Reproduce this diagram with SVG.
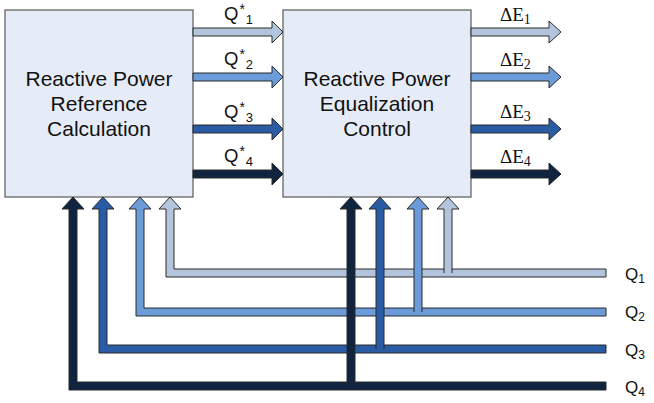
<svg xmlns="http://www.w3.org/2000/svg" width="654" height="403" viewBox="0 0 654 403">
<style>
.box{fill:#e6ecf7;stroke:#5a5a5a;stroke-width:1.2}
.bt{font-family:"Liberation Sans",Arial,sans-serif;font-size:21px;fill:#111;text-anchor:middle}
.ql{font-family:"Liberation Sans",Arial,sans-serif;font-size:18.5px;fill:#111}
.rl{font-family:"Liberation Sans",Arial,sans-serif;font-size:17px;fill:#111}
.el{font-family:"Liberation Serif","Times New Roman",serif;font-size:19px;fill:#111}
.a{stroke:#2b2b2b;stroke-width:1;stroke-linejoin:miter}
.c1{fill:#b3c5dc}.c2{fill:#6b9bd8}.c3{fill:#2a5ca5}.c4{fill:#10243f}
</style>
<rect width="654" height="403" fill="#ffffff"/>
<g id="node-reference">
<rect class="box" x="5" y="10" width="188" height="187"/>
<text class="bt" x="99" y="86">Reactive Power</text>
<text class="bt" x="99" y="111">Reference</text>
<text class="bt" x="99" y="136">Calculation</text>
</g>
<g id="node-equalization">
<rect class="box" x="283" y="10" width="188" height="187"/>
<text class="bt" x="377" y="86">Reactive Power</text>
<text class="bt" x="377" y="111">Equalization</text>
<text class="bt" x="377" y="136">Control</text>
</g>
<g id="connectors">
<path class="a c1" d="M193,28 H272 V21 L283,32 L272,43 V36 H193 Z"/>
<path class="a c2" d="M193,73 H272 V66 L283,77 L272,88 V81 H193 Z"/>
<path class="a c3" d="M193,125 H272 V118 L283,129 L272,140 V133 H193 Z"/>
<path class="a c4" d="M193,170 H272 V163 L283,174 L272,185 V178 H193 Z"/>
<path class="a c1" d="M471,28 H549 V21 L561,32 L549,43 V36 H471 Z"/>
<path class="a c2" d="M471,73 H549 V66 L561,77 L549,88 V81 H471 Z"/>
<path class="a c3" d="M471,125 H549 V118 L561,129 L549,140 V133 H471 Z"/>
<path class="a c4" d="M471,170 H549 V163 L561,174 L549,185 V178 H471 Z"/>
<path class="a c1" d="M170,197 L181,209 H174 V269 H606 V277 H166 V209 H159 Z"/>
<path class="a c2" d="M140,197 L151,209 H144 V308 H606 V316 H136 V209 H129 Z"/>
<path class="a c3" d="M103,197 L114,209 H107 V345 H606 V353 H99 V209 H92 Z"/>
<path class="a c4" d="M73,197 L84,209 H77 V382 H606 V390 H69 V209 H62 Z"/>
<path class="a c1" d="M444,273 V209 H437 L448,197 L459,209 H452 V273"/>
<path class="a c2" d="M414,312 V209 H407 L418,197 L429,209 H422 V312"/>
<path class="a c3" d="M376,349 V209 H369 L380,197 L391,209 H384 V349"/>
<path class="a c4" d="M347,386 V209 H340 L351,197 L362,209 H355 V386"/>
</g>
<g id="labels">
<text class="ql" x="224" y="20">Q<tspan dx="1" dy="-6" font-size="14">*</tspan><tspan dx="1" dy="10" font-size="13">1</tspan></text>
<text class="ql" x="224" y="65">Q<tspan dx="1" dy="-6" font-size="14">*</tspan><tspan dx="1" dy="10" font-size="13">2</tspan></text>
<text class="ql" x="224" y="118">Q<tspan dx="1" dy="-6" font-size="14">*</tspan><tspan dx="1" dy="10" font-size="13">3</tspan></text>
<text class="ql" x="224" y="162">Q<tspan dx="1" dy="-6" font-size="14">*</tspan><tspan dx="1" dy="10" font-size="13">4</tspan></text>
<text class="el" x="500" y="21">ΔE<tspan dy="3" font-size="14">1</tspan></text>
<text class="el" x="500" y="66">ΔE<tspan dy="3" font-size="14">2</tspan></text>
<text class="el" x="500" y="118">ΔE<tspan dy="3" font-size="14">3</tspan></text>
<text class="el" x="500" y="163">ΔE<tspan dy="3" font-size="14">4</tspan></text>
<text class="rl" x="625" y="280">Q<tspan dy="3" font-size="12">1</tspan></text>
<text class="rl" x="625" y="318">Q<tspan dy="3" font-size="12">2</tspan></text>
<text class="rl" x="625" y="356">Q<tspan dy="3" font-size="12">3</tspan></text>
<text class="rl" x="625" y="393">Q<tspan dy="3" font-size="12">4</tspan></text>
</g>
</svg>
